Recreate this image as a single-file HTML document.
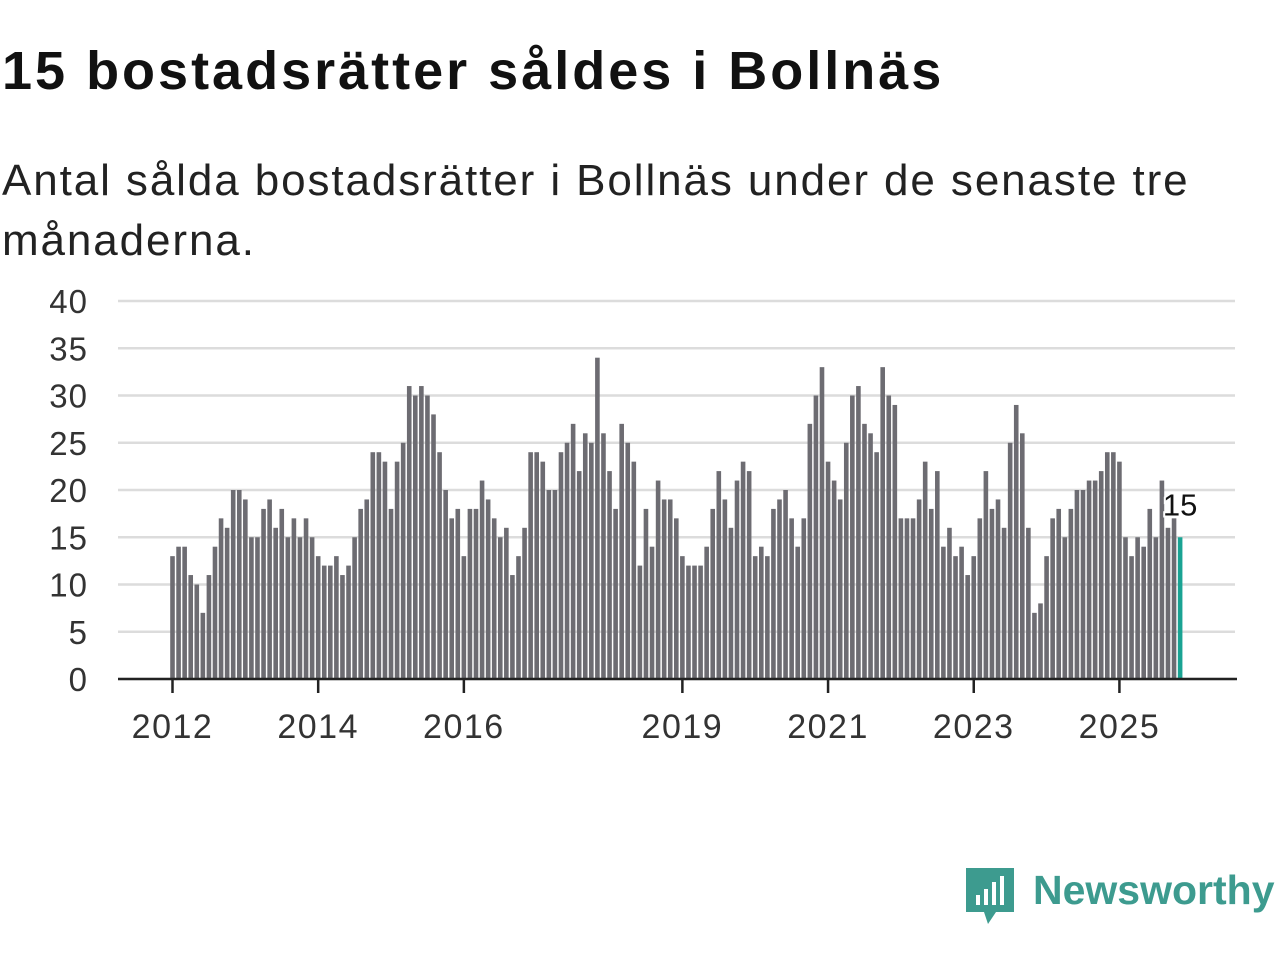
<!DOCTYPE html>
<html><head><meta charset="utf-8"><style>
body{margin:0;background:#fff;width:1280px;height:960px;overflow:hidden;font-family:"Liberation Sans",sans-serif;}
h1{position:absolute;left:2px;top:40px;margin:0;font-size:54px;font-weight:bold;color:#111;letter-spacing:3px}
.sub{position:absolute;left:2px;top:151px;margin:0;font-size:44px;line-height:60px;color:#222;width:1225px;letter-spacing:1.9px}
svg{position:absolute;left:0;top:0}
</style></head><body>
<h1>15 bostadsrätter såldes i Bollnäs</h1>
<p class="sub">Antal sålda bostadsrätter i Bollnäs under de senaste tre månaderna.</p>
<svg id="chart" width="1280" height="960"></svg>
<script>
const values = [13,14,14,11,10,7,11,14,17,16,20,20,
19,15,15,18,19,16,18,15,17,15,17,15,
13,12,12,13,11,12,15,18,19,24,24,23,
18,23,25,31,30,31,30,28,24,20,17,18,
13,18,18,21,19,17,15,16,11,13,16,24,
24,23,20,20,24,25,27,22,26,25,34,26,
22,18,27,25,23,12,18,14,21,19,19,17,
13,12,12,12,14,18,22,19,16,21,23,22,
13,14,13,18,19,20,17,14,17,27,30,33,
23,21,19,25,30,31,27,26,24,33,30,29,
17,17,17,19,23,18,22,14,16,13,14,11,
13,17,22,18,19,16,25,29,26,16,7,8,
13,17,18,15,18,20,20,21,21,22,24,24,
23,15,13,15,14,18,15,21,16,17,15];
const startYear = 2012;
const yTicks = [0,5,10,15,20,25,30,35,40];
const xTickYears = [2012,2014,2016,2019,2021,2023,2025];
const svg = document.getElementById('chart');
const NS = 'http://www.w3.org/2000/svg';
const y0 = 679, yTop = 301, yMax = 40;
const y = v => y0 - (v / yMax) * (y0 - yTop);
const x = i => 172.5 + i * 6.07;
function mk(tag, attrs, txt){const e=document.createElementNS(NS,tag);for(const k in attrs)e.setAttribute(k,attrs[k]);if(txt!==undefined)e.textContent=txt;svg.appendChild(e);return e;}
yTicks.forEach(t=>{
  const g = mk('line',{x1:118,x2:1235,y1:y(t),y2:y(t),stroke:'#dcdcdc','stroke-width':2.5});
  
  
  const l = mk('text',{x:88,y:y(t)+12,'text-anchor':'end','font-size':33,'letter-spacing':1,fill:'#333','font-family':'Liberation Sans, sans-serif'},String(t));
  
  
});
values.forEach((v,i)=>{
  const last = i===values.length-1;
  const r = mk('rect',{x:x(i)-2.3,y:y(v),width:4.6,height:y0-y(v),fill:last?'#1aa393':'#6d6c72'});
  
  
});
const ax = mk('line',{x1:118,x2:1237,y1:y0,y2:y0,stroke:'#222','stroke-width':2.5});


xTickYears.forEach(yr=>{
  const xi = x((yr-startYear)*12);
  const tm = mk('line',{x1:xi,x2:xi,y1:y0,y2:y0+14,stroke:'#222','stroke-width':2.5});
  
  
  const tl = mk('text',{x:xi,y:y0+59,'text-anchor':'middle','font-size':34,'letter-spacing':1.5,fill:'#333','font-family':'Liberation Sans, sans-serif'},String(yr));
  
  
});
const lastI = values.length-1;
const vl = mk('text',{x:x(lastI),y:y(values[lastI])-22,'text-anchor':'middle','font-size':31,fill:'#111','stroke':'#fff','stroke-width':4,'paint-order':'stroke','font-family':'Liberation Sans, sans-serif'},String(values[lastI]));


</script>
<svg width="1280" height="960" style="pointer-events:none">
  <path d="M966 868 h48 v44 h-18 l-8 12 l-4 -12 h-18 z" fill="#3d9b8f"/>
  <rect x="976" y="895" width="4" height="10" fill="#fff"/>
  <rect x="984" y="889" width="4" height="16" fill="#fff"/>
  <rect x="992" y="882" width="4" height="23" fill="#fff"/>
  <rect x="1000" y="876" width="4" height="29" fill="#fff"/>
  <text x="1033" y="904" font-size="41" font-weight="bold" fill="#3d9b8f" font-family="Liberation Sans, sans-serif">Newsworthy</text>
</svg>
</body></html>
